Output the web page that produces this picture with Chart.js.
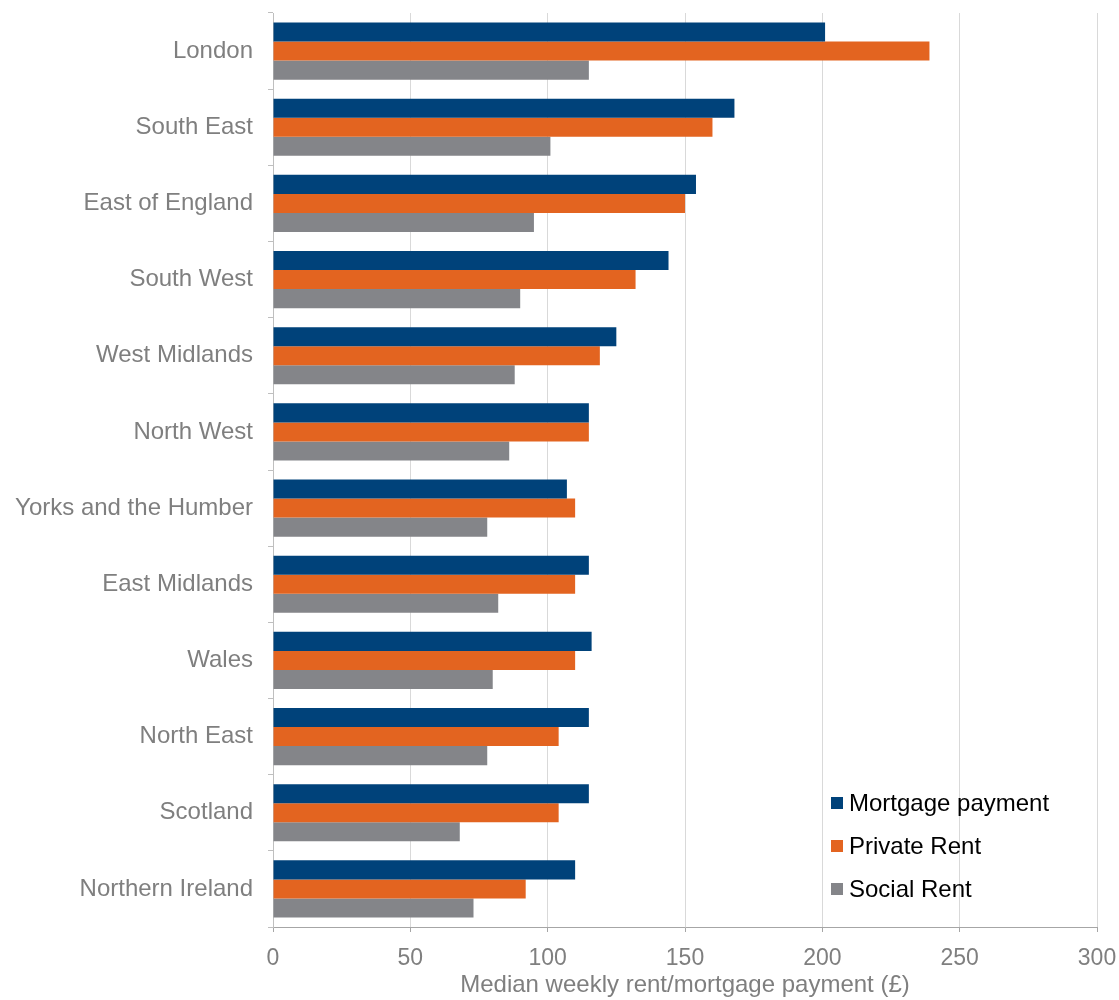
<!DOCTYPE html>
<html>
<head>
<meta charset="utf-8">
<script src="https://cdn.jsdelivr.net/npm/chart.js@4.4.0/dist/chart.umd.min.js"></script>
<style>
  body { margin: 0; background: #fff; }
  #wrap { position: relative; width: 1119px; height: 1000px; }
  #legenda { position: absolute; left: 831px; top: 781px; font-family: "Liberation Sans", Arial, sans-serif; font-size: 24px; color: #000; }
  #legenda div { height: 43px; line-height: 43px; white-space: nowrap; }
  #legenda span { display: inline-block; width: 12px; height: 12px; margin-right: 6px; vertical-align: 2px; }
</style>
</head>
<body>
<div id="wrap">
  <canvas id="chart-rendas"></canvas>
  <div id="legenda"></div>
</div>
<script>

const regioes = ["London", "South East", "East of England", "South West", "West Midlands", "North West",
  "Yorks and the Humber", "East Midlands", "Wales", "North East", "Scotland", "Northern Ireland"];

const hipoteca = [201, 168, 154, 144, 125, 115, 107, 115, 116, 115, 115, 110];
const aluguelPrivado = [239, 160, 150, 132, 119, 115, 110, 110, 110, 104, 104, 92];
const aluguelSocial = [115, 101, 95, 90, 88, 86, 78, 82, 80, 78, 68, 73];

const nomesSeries = ["Mortgage payment", "Private Rent", "Social Rent"];
const coresSeries = ["#00427A", "#E36420", "#848589"];

const tituloX = "Median weekly rent/mortgage payment (£)";
const fonte = "'Liberation Sans', Arial, sans-serif";

// legenda em html, canto inferior direito
var legenda = document.getElementById("legenda");
nomesSeries.forEach(function (nome, i) {
  legenda.innerHTML += `<div><span style="background:${coresSeries[i]}"></span>${nome}</div>`;
});

const ctr = document.getElementById("chart-rendas");

new Chart(ctr, {
  type: "bar",
  data: {
    labels: regioes,
    datasets: [
      { label: nomesSeries[0], data: hipoteca, backgroundColor: coresSeries[0], borderWidth: 0 },
      { label: nomesSeries[1], data: aluguelPrivado, backgroundColor: coresSeries[1], borderWidth: 0 },
      { label: nomesSeries[2], data: aluguelSocial, backgroundColor: coresSeries[2], borderWidth: 0 },
    ],
  },
  options: {
    indexAxis: "y",
    responsive: true,
    maintainAspectRatio: false,
    animation: false,
    datasets: {
      bar: { categoryPercentage: 0.75, barPercentage: 1.0 }
    },
    layout: {
      padding: { top: 13, right: 22, bottom: 0, left: 0 }
    },
    plugins: {
      legend: { display: false },
      tooltip: { enabled: false }
    },
    scales: {
      x: {
        min: 0,
        max: 300,
        ticks: {
          stepSize: 50,
          color: "#7f7f7f",
          padding: 13,
          font: { family: fonte, size: 23 }
        },
        grid: {
          color: "#d9d9d9",
          tickColor: "#a6a6a6",
          tickLength: 5
        },
        border: { color: "#a6a6a6" },
        title: {
          display: true,
          text: tituloX,
          color: "#7f7f7f",
          padding: { top: 0, bottom: 0 },
          font: { family: fonte, size: 24 }
        },
        afterFit: function (scale) {
          scale.height = 73;
          scale.paddingLeft = 0;
          scale.paddingRight = 0;
        }
      },
      y: {
        ticks: {
          color: "#7f7f7f",
          padding: 15,
          font: { family: fonte, size: 24 }
        },
        grid: {
          offset: true,
          drawOnChartArea: false,
          color: "#bfbfbf",
          tickLength: 5
        },
        border: { color: "#bfbfbf" },
        afterFit: function (scale) {
          scale.width = 273;
          scale.paddingTop = 0;
          scale.paddingBottom = 0;
        }
      }
    }
  }
});

</script>
</body>
</html>
